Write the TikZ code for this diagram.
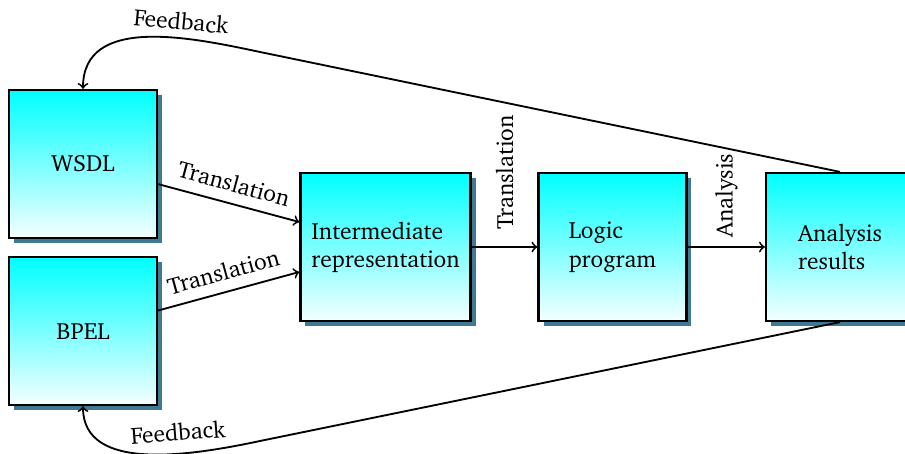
\documentclass[tikz,border=0pt]{standalone}
\usepackage[T1]{fontenc}
\usepackage{charter}
\usepackage{tikz}
\usetikzlibrary{shadows}
\definecolor{shadowblue}{RGB}{62,122,146}

\begin{document}
\begin{tikzpicture}[x=0.46pt, y=0.46pt, font=\fontsize{10.8}{13}\selectfont,
  block/.style={draw, line width=1.1pt, align=left, minimum width=68pt, minimum height=68pt,
    inner xsep=5pt, top color=cyan, bottom color=cyan!4,
    drop shadow={shadow xshift=2.3pt, shadow yshift=-2.3pt, fill=shadowblue, opacity=1}},
  conn/.style={->, line width=0.85pt}]
\useasboundingbox (0,0) rectangle (905,454);
% Boxes
\node [block] (wsdl) at (83,290) {WSDL};
\node [block] (bpel) at (83,123) {BPEL};
\node [block] (inter) at (385.5,207) {Intermediate\\representation};
\node [block] (logic) at (612.5,207) {Logic\\program};
\node [block] (results) at (840,207) {Analysis\\results};
% Bends
\coordinate (fbtop) at (260,402);
\coordinate (fbbot) at (260,13);
% Arrows
\draw [conn] (wsdl) -- ([yshift=11.5pt]inter.west) node [midway, above=1.5pt, sloped] (trA) {Translation};
\draw [conn] (bpel) -- ([yshift=-11.5pt]inter.west) node [midway, above=1.5pt, sloped] (trB) {Translation};
\draw [conn] (inter) -- (logic) node [midway, rotate=90, anchor=west, inner sep=7.4pt] (trC) {Translation};
\draw [conn] (logic) -- (results) node [midway, rotate=90, anchor=west, inner sep=3.8pt] (an) {Analysis};
% Feedback
\draw [conn] (results.north) -- (fbtop) to [out=168, in=90, in looseness=1.05] node [pos=0.35, above, sloped] (fbA) {Feedback} (wsdl.north);
\draw [conn] (results.south) -- (fbbot) to [out=192, in=-90, in looseness=0.95] node [pos=0.35, above=2pt, sloped] (fbB) {Feedback} (bpel.south);
\end{tikzpicture}
\end{document}
